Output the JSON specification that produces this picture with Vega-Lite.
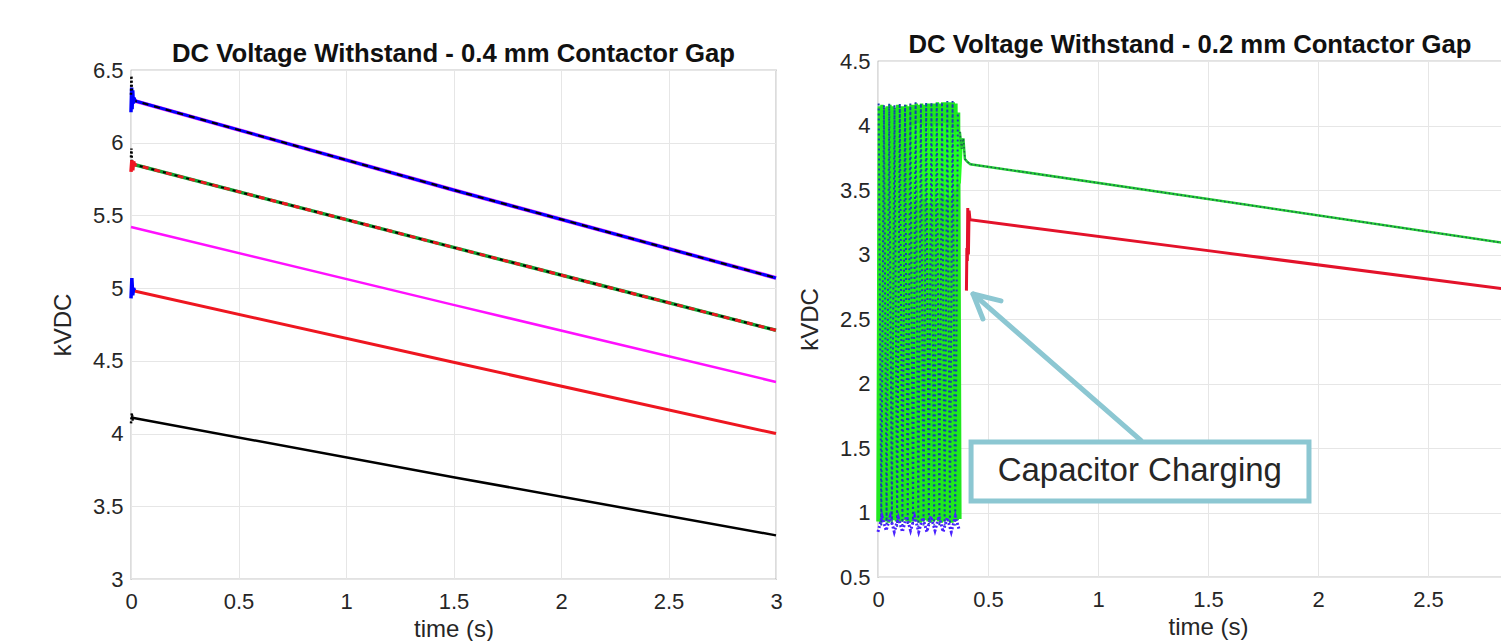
{
  "$schema": "https://vega.github.io/schema/vega-lite/v6.json",
  "background": "white",
  "padding": {"left": 50, "top": 30, "right": 0, "bottom": 0},
  "spacing": 12,
  "datasets": {
    "left": [
      {"s": "L1", "t": 0, "v": 6.295}, {"s": "L1", "t": 1.5, "v": 5.675}, {"s": "L1", "t": 3, "v": 5.07},
      {"s": "L2", "t": 0, "v": 5.855}, {"s": "L2", "t": 1.5, "v": 5.28}, {"s": "L2", "t": 3, "v": 4.71},
      {"s": "L3", "t": 0, "v": 5.42}, {"s": "L3", "t": 1.5, "v": 4.885}, {"s": "L3", "t": 3, "v": 4.355},
      {"s": "L4", "t": 0, "v": 4.985}, {"s": "L4", "t": 1.5, "v": 4.49}, {"s": "L4", "t": 3, "v": 4.0},
      {"s": "L5", "t": 0, "v": 4.11}, {"s": "L5", "t": 1.5, "v": 3.7}, {"s": "L5", "t": 3, "v": 3.3},
      {"s": "S1", "t": 0, "v": 6.21}, {"s": "S1", "t": 0.003, "v": 6.38}, {"s": "S1", "t": 0.005, "v": 6.23}, {"s": "S1", "t": 0.008, "v": 6.36}, {"s": "S1", "t": 0.011, "v": 6.27}, {"s": "S1", "t": 0.014, "v": 6.31}, {"s": "S1", "t": 0.018, "v": 6.29},
      {"s": "K1", "t": 0, "v": 6.33}, {"s": "K1", "t": 0.002, "v": 6.46}, {"s": "K1", "t": 0.004, "v": 6.36},
      {"s": "S2", "t": 0, "v": 5.8}, {"s": "S2", "t": 0.004, "v": 5.88}, {"s": "S2", "t": 0.008, "v": 5.81}, {"s": "S2", "t": 0.012, "v": 5.87}, {"s": "S2", "t": 0.016, "v": 5.85},
      {"s": "K2", "t": 0, "v": 5.9}, {"s": "K2", "t": 0.002, "v": 5.96}, {"s": "K2", "t": 0.004, "v": 5.88},
      {"s": "S3", "t": 0, "v": 4.93}, {"s": "S3", "t": 0.004, "v": 5.07}, {"s": "S3", "t": 0.008, "v": 4.95}, {"s": "S3", "t": 0.012, "v": 5.0}, {"s": "S3", "t": 0.016, "v": 4.985},
      {"s": "K3", "t": 0, "v": 4.07}, {"s": "K3", "t": 0.004, "v": 4.14}, {"s": "K3", "t": 0.008, "v": 4.09}, {"s": "K3", "t": 0.012, "v": 4.11}
    ],
    "right": [
      {"s": "GO", "t": 0.000, "v": 0.93}, {"s": "GO", "t": 0.006, "v": 4.15}, {"s": "GO", "t": 0.012, "v": 0.92}, {"s": "GO", "t": 0.018, "v": 4.16},
      {"s": "GO", "t": 0.024, "v": 0.94}, {"s": "GO", "t": 0.030, "v": 4.14}, {"s": "GO", "t": 0.036, "v": 0.93}, {"s": "GO", "t": 0.042, "v": 4.15},
      {"s": "GO", "t": 0.048, "v": 0.92}, {"s": "GO", "t": 0.054, "v": 4.16}, {"s": "GO", "t": 0.060, "v": 0.93}, {"s": "GO", "t": 0.066, "v": 4.15},
      {"s": "GO", "t": 0.072, "v": 0.94}, {"s": "GO", "t": 0.078, "v": 4.14}, {"s": "GO", "t": 0.084, "v": 0.93}, {"s": "GO", "t": 0.090, "v": 4.16},
      {"s": "GO", "t": 0.096, "v": 0.92}, {"s": "GO", "t": 0.102, "v": 4.15}, {"s": "GO", "t": 0.108, "v": 0.93}, {"s": "GO", "t": 0.114, "v": 4.15},
      {"s": "GO", "t": 0.120, "v": 0.94}, {"s": "GO", "t": 0.126, "v": 4.16}, {"s": "GO", "t": 0.132, "v": 0.93}, {"s": "GO", "t": 0.138, "v": 4.15},
      {"s": "GO", "t": 0.144, "v": 0.92}, {"s": "GO", "t": 0.150, "v": 4.16}, {"s": "GO", "t": 0.156, "v": 0.93}, {"s": "GO", "t": 0.162, "v": 4.16},
      {"s": "GO", "t": 0.168, "v": 0.94}, {"s": "GO", "t": 0.174, "v": 4.17}, {"s": "GO", "t": 0.180, "v": 0.93}, {"s": "GO", "t": 0.186, "v": 4.16},
      {"s": "GO", "t": 0.192, "v": 0.92}, {"s": "GO", "t": 0.198, "v": 4.17}, {"s": "GO", "t": 0.204, "v": 0.93}, {"s": "GO", "t": 0.210, "v": 4.16},
      {"s": "GO", "t": 0.216, "v": 0.94}, {"s": "GO", "t": 0.222, "v": 4.17}, {"s": "GO", "t": 0.228, "v": 0.93}, {"s": "GO", "t": 0.234, "v": 4.17},
      {"s": "GO", "t": 0.240, "v": 0.92}, {"s": "GO", "t": 0.246, "v": 4.17}, {"s": "GO", "t": 0.252, "v": 0.93}, {"s": "GO", "t": 0.258, "v": 4.17},
      {"s": "GO", "t": 0.264, "v": 0.94}, {"s": "GO", "t": 0.270, "v": 4.18}, {"s": "GO", "t": 0.276, "v": 0.93}, {"s": "GO", "t": 0.282, "v": 4.17},
      {"s": "GO", "t": 0.288, "v": 0.92}, {"s": "GO", "t": 0.294, "v": 4.18}, {"s": "GO", "t": 0.300, "v": 0.93}, {"s": "GO", "t": 0.306, "v": 4.18},
      {"s": "GO", "t": 0.312, "v": 0.94}, {"s": "GO", "t": 0.318, "v": 4.18}, {"s": "GO", "t": 0.324, "v": 0.93}, {"s": "GO", "t": 0.330, "v": 4.18},
      {"s": "GO", "t": 0.336, "v": 0.92}, {"s": "GO", "t": 0.342, "v": 4.18}, {"s": "GO", "t": 0.348, "v": 0.93}, {"s": "GO", "t": 0.354, "v": 4.17},
      {"s": "GO", "t": 0.360, "v": 0.94}, {"s": "GO", "t": 0.366, "v": 4.1}, {"s": "GO", "t": 0.372, "v": 0.95},
      {"s": "GP", "t": 0.15, "v": 3.4}, {"s": "GP", "t": 0.16, "v": 4.0}, {"s": "GP", "t": 0.17, "v": 3.42}, {"s": "GP", "t": 0.18, "v": 4.02},
      {"s": "GP", "t": 0.19, "v": 3.4}, {"s": "GP", "t": 0.20, "v": 4.0}, {"s": "GP", "t": 0.21, "v": 3.43}, {"s": "GP", "t": 0.22, "v": 4.02},
      {"s": "GP", "t": 0.23, "v": 3.4}, {"s": "GP", "t": 0.24, "v": 4.0}, {"s": "GP", "t": 0.25, "v": 3.42}, {"s": "GP", "t": 0.26, "v": 4.01},
      {"s": "GP", "t": 0.27, "v": 3.4}, {"s": "GP", "t": 0.28, "v": 4.0}, {"s": "GP", "t": 0.29, "v": 3.45}, {"s": "GP", "t": 0.30, "v": 4.02},
      {"s": "GP", "t": 0.31, "v": 3.42}, {"s": "GP", "t": 0.32, "v": 4.0}, {"s": "GP", "t": 0.33, "v": 3.45}, {"s": "GP", "t": 0.34, "v": 3.98},
      {"s": "GP", "t": 0.35, "v": 3.5}, {"s": "GP", "t": 0.36, "v": 3.95}, {"s": "GP", "t": 0.37, "v": 3.55}, {"s": "GP", "t": 0.38, "v": 3.9},
      {"s": "BO", "t": 0.003, "v": 4.17}, {"s": "BO", "t": 0.015, "v": 0.9}, {"s": "BO", "t": 0.027, "v": 4.16}, {"s": "BO", "t": 0.039, "v": 0.91},
      {"s": "BO", "t": 0.051, "v": 4.17}, {"s": "BO", "t": 0.063, "v": 0.9}, {"s": "BO", "t": 0.075, "v": 4.16}, {"s": "BO", "t": 0.087, "v": 0.89},
      {"s": "BO", "t": 0.099, "v": 4.17}, {"s": "BO", "t": 0.111, "v": 0.9}, {"s": "BO", "t": 0.123, "v": 4.16}, {"s": "BO", "t": 0.135, "v": 0.91},
      {"s": "BO", "t": 0.147, "v": 4.17}, {"s": "BO", "t": 0.159, "v": 0.9}, {"s": "BO", "t": 0.171, "v": 4.18}, {"s": "BO", "t": 0.183, "v": 0.89},
      {"s": "BO", "t": 0.195, "v": 4.17}, {"s": "BO", "t": 0.207, "v": 0.9}, {"s": "BO", "t": 0.219, "v": 4.18}, {"s": "BO", "t": 0.231, "v": 0.91},
      {"s": "BO", "t": 0.243, "v": 4.18}, {"s": "BO", "t": 0.255, "v": 0.9}, {"s": "BO", "t": 0.267, "v": 4.18}, {"s": "BO", "t": 0.279, "v": 0.89},
      {"s": "BO", "t": 0.291, "v": 4.18}, {"s": "BO", "t": 0.303, "v": 0.9}, {"s": "BO", "t": 0.315, "v": 4.19}, {"s": "BO", "t": 0.327, "v": 0.91},
      {"s": "BO", "t": 0.339, "v": 4.19}, {"s": "BO", "t": 0.351, "v": 0.9}, {"s": "BO", "t": 0.363, "v": 4.1},
      {"s": "PB", "t": 0.0, "v": 0.85}, {"s": "PB", "t": 0.0185, "v": 0.97}, {"s": "PB", "t": 0.037, "v": 0.86}, {"s": "PB", "t": 0.0555, "v": 0.97},
      {"s": "PB", "t": 0.074, "v": 0.85}, {"s": "PB", "t": 0.0925, "v": 0.96}, {"s": "PB", "t": 0.111, "v": 0.85}, {"s": "PB", "t": 0.1295, "v": 0.97},
      {"s": "PB", "t": 0.148, "v": 0.86}, {"s": "PB", "t": 0.1665, "v": 0.97}, {"s": "PB", "t": 0.185, "v": 0.85}, {"s": "PB", "t": 0.2035, "v": 0.96},
      {"s": "PB", "t": 0.222, "v": 0.85}, {"s": "PB", "t": 0.2405, "v": 0.97}, {"s": "PB", "t": 0.259, "v": 0.86}, {"s": "PB", "t": 0.2775, "v": 0.97},
      {"s": "PB", "t": 0.296, "v": 0.85}, {"s": "PB", "t": 0.3145, "v": 0.96}, {"s": "PB", "t": 0.333, "v": 0.85}, {"s": "PB", "t": 0.3515, "v": 0.97},
      {"s": "PB", "t": 0.37, "v": 0.86},
      {"s": "GD", "t": 0.372, "v": 3.95}, {"s": "GD", "t": 0.38, "v": 3.82}, {"s": "GD", "t": 0.388, "v": 3.9}, {"s": "GD", "t": 0.395, "v": 3.74},
      {"s": "GD", "t": 0.405, "v": 3.72}, {"s": "GD", "t": 0.42, "v": 3.7}, {"s": "GD", "t": 1.5, "v": 3.43}, {"s": "GD", "t": 3.0, "v": 3.05},
      {"s": "R", "t": 0.402, "v": 2.72}, {"s": "R", "t": 0.404, "v": 3.05}, {"s": "R", "t": 0.406, "v": 2.95}, {"s": "R", "t": 0.408, "v": 3.36},
      {"s": "R", "t": 0.411, "v": 3.0}, {"s": "R", "t": 0.414, "v": 3.34}, {"s": "R", "t": 0.418, "v": 3.27}, {"s": "R", "t": 1.5, "v": 3.03},
      {"s": "R", "t": 3.0, "v": 2.7}
    ],
    "box": [{"t": 0.423, "t2": 1.959, "v": 1.547, "v2": 1.089}],
    "arrow": [
      {"t": 1.195, "v": 1.56, "t2": 0.435, "v2": 2.69},
      {"t": 0.432, "v": 2.694, "t2": 0.559, "v2": 2.64},
      {"t": 0.432, "v": 2.694, "t2": 0.477, "v2": 2.5}
    ],
    "label": [{"t": 1.19, "v": 1.322, "text": "Capacitor Charging"}],
    "empty": []
  },
  "hconcat": [
    {
      "spacing": 9,
      "vconcat": [
        {"width": 10, "height": 1, "data": {"name": "empty"}, "mark": "point", "view": {"stroke": null}},
        {
          "width": 645,
          "height": 509,
          "title": {"text": "DC Voltage Withstand - 0.4 mm Contactor Gap", "offset": -9, "frame": "group"},
          "data": {"name": "left"},
          "encoding": {
            "x": {"field": "t", "type": "quantitative", "scale": {"domain": [0, 3], "nice": false},
                  "axis": {"title": "time (s)", "values": [0, 0.5, 1, 1.5, 2, 2.5, 3], "format": "~g", "labelFlush": false, "labelPadding": 12, "titlePadding": 5}},
            "y": {"field": "v", "type": "quantitative", "scale": {"domain": [3, 6.5], "nice": false, "zero": false},
                  "axis": {"title": "kVDC", "values": [3, 3.5, 4, 4.5, 5, 5.5, 6, 6.5], "format": "~g", "labelFlush": false, "labelPadding": 8, "titlePadding": 17}}
          },
          "layer": [
            {"transform": [{"filter": "datum.s == 'L5'"}], "mark": {"type": "line", "color": "#000000", "strokeWidth": 2.5}},
            {"transform": [{"filter": "datum.s == 'L4'"}], "mark": {"type": "line", "color": "#ee1620", "strokeWidth": 3}},
            {"transform": [{"filter": "datum.s == 'L3'"}], "mark": {"type": "line", "color": "#ff10ff", "strokeWidth": 2.5}},
            {"transform": [{"filter": "datum.s == 'L2'"}], "mark": {"type": "line", "color": "#10a030", "strokeWidth": 3.5}},
            {"transform": [{"filter": "datum.s == 'L2'"}], "mark": {"type": "line", "color": "#ee1620", "strokeWidth": 3, "strokeDash": [6, 6]}},
            {"transform": [{"filter": "datum.s == 'L2'"}], "mark": {"type": "line", "color": "#000000", "strokeWidth": 2, "strokeDash": [3, 9], "strokeDashOffset": 3}},
            {"transform": [{"filter": "datum.s == 'L1'"}], "mark": {"type": "line", "color": "#ff40ff", "strokeWidth": 4}},
            {"transform": [{"filter": "datum.s == 'L1'"}], "mark": {"type": "line", "color": "#0000ff", "strokeWidth": 3}},
            {"transform": [{"filter": "datum.s == 'L1'"}], "mark": {"type": "line", "color": "#000000", "strokeWidth": 2, "strokeDash": [6, 6]}},
            {"transform": [{"filter": "datum.s == 'S1' || datum.s == 'S3'"}], "mark": {"type": "line", "color": "#0000ff", "strokeWidth": 3.5}, "encoding": {"detail": {"field": "s"}}},
            {"transform": [{"filter": "datum.s == 'S2'"}], "mark": {"type": "line", "color": "#ee1620", "strokeWidth": 3.5}},
            {"transform": [{"filter": "datum.s == 'K1' || datum.s == 'K2' || datum.s == 'K3'"}], "mark": {"type": "line", "color": "#000000", "strokeWidth": 2.5, "strokeDash": [2, 2]}, "encoding": {"detail": {"field": "s"}}}
          ]
        }
      ]
    },
    {
      "spacing": 0,
      "vconcat": [
        {"width": 10, "height": 1, "data": {"name": "empty"}, "mark": "point", "view": {"stroke": null}},
        {
          "width": 660,
          "height": 516,
          "title": {"text": "DC Voltage Withstand - 0.2 mm Contactor Gap", "offset": -9, "frame": "group", "dx": -18},
          "encoding": {
            "x": {"field": "t", "type": "quantitative", "scale": {"domain": [0, 3], "nice": false},
                  "axis": {"title": "time (s)", "values": [0, 0.5, 1, 1.5, 2, 2.5], "format": "~g", "labelFlush": false, "labelPadding": 12, "titlePadding": 5}},
            "y": {"field": "v", "type": "quantitative", "scale": {"domain": [0.5, 4.5], "nice": false, "zero": false},
                  "axis": {"title": "kVDC", "values": [0.5, 1, 1.5, 2, 2.5, 3, 3.5, 4, 4.5], "format": "~g", "labelFlush": false, "labelPadding": 8, "titlePadding": 17}}
          },
          "layer": [
            {"data": {"name": "right"}, "transform": [{"filter": "datum.s == 'GO'"}], "mark": {"type": "line", "color": "#1ee81e", "strokeWidth": 3.5}},
            {"data": {"name": "right"}, "transform": [{"filter": "datum.s == 'GP'"}], "mark": {"type": "line", "color": "#22ff22", "strokeWidth": 3}},
            {"data": {"name": "right"}, "transform": [{"filter": "datum.s == 'BO'"}], "mark": {"type": "line", "color": "#1a3cb0", "strokeWidth": 2, "strokeDash": [2, 3]}},
            {"data": {"name": "right"}, "transform": [{"filter": "datum.s == 'PB'"}], "mark": {"type": "line", "color": "#4a22ff", "strokeWidth": 3, "strokeDash": [2, 2]}},
            {"data": {"name": "right"}, "transform": [{"filter": "datum.s == 'GD'"}], "mark": {"type": "line", "color": "#22cc33", "strokeWidth": 2.5}},
            {"data": {"name": "right"}, "transform": [{"filter": "datum.s == 'GD'"}], "mark": {"type": "line", "color": "#1b5e50", "strokeWidth": 1.5, "strokeDash": [1.5, 2.5]}},
            {"data": {"name": "right"}, "transform": [{"filter": "datum.s == 'R'"}], "mark": {"type": "line", "color": "#e3122a", "strokeWidth": 3}},
            {"data": {"name": "arrow"}, "mark": {"type": "rule", "color": "#8cc7d2", "strokeWidth": 5, "strokeCap": "round"},
             "encoding": {"x2": {"field": "t2"}, "y2": {"field": "v2"}}},
            {"data": {"name": "box"}, "mark": {"type": "rect", "fill": "white", "stroke": "#8cc7d2", "strokeWidth": 5},
             "encoding": {"x2": {"field": "t2"}, "y2": {"field": "v2"}}},
            {"data": {"name": "label"}, "mark": {"type": "text", "font": "Liberation Sans", "fontSize": 33, "color": "#262626", "align": "center", "baseline": "middle"},
             "encoding": {"text": {"field": "text"}}}
          ]
        }
      ]
    }
  ],
  "config": {
    "font": "Liberation Sans",
    "view": {"stroke": "#8c8c8c", "strokeWidth": 1.2},
    "title": {"font": "Liberation Sans", "fontSize": 25.7, "fontWeight": "bold", "color": "#111111", "anchor": "middle"},
    "axis": {
      "domain": false,
      "ticks": false,
      "grid": true,
      "gridColor": "#e6e6e6",
      "gridWidth": 1,
      "labelFont": "Liberation Sans",
      "labelFontSize": 22,
      "labelColor": "#262626",
      "titleFont": "Liberation Sans",
      "titleFontSize": 24,
      "titleFontWeight": "normal",
      "titleColor": "#262626"
    }
  }
}
